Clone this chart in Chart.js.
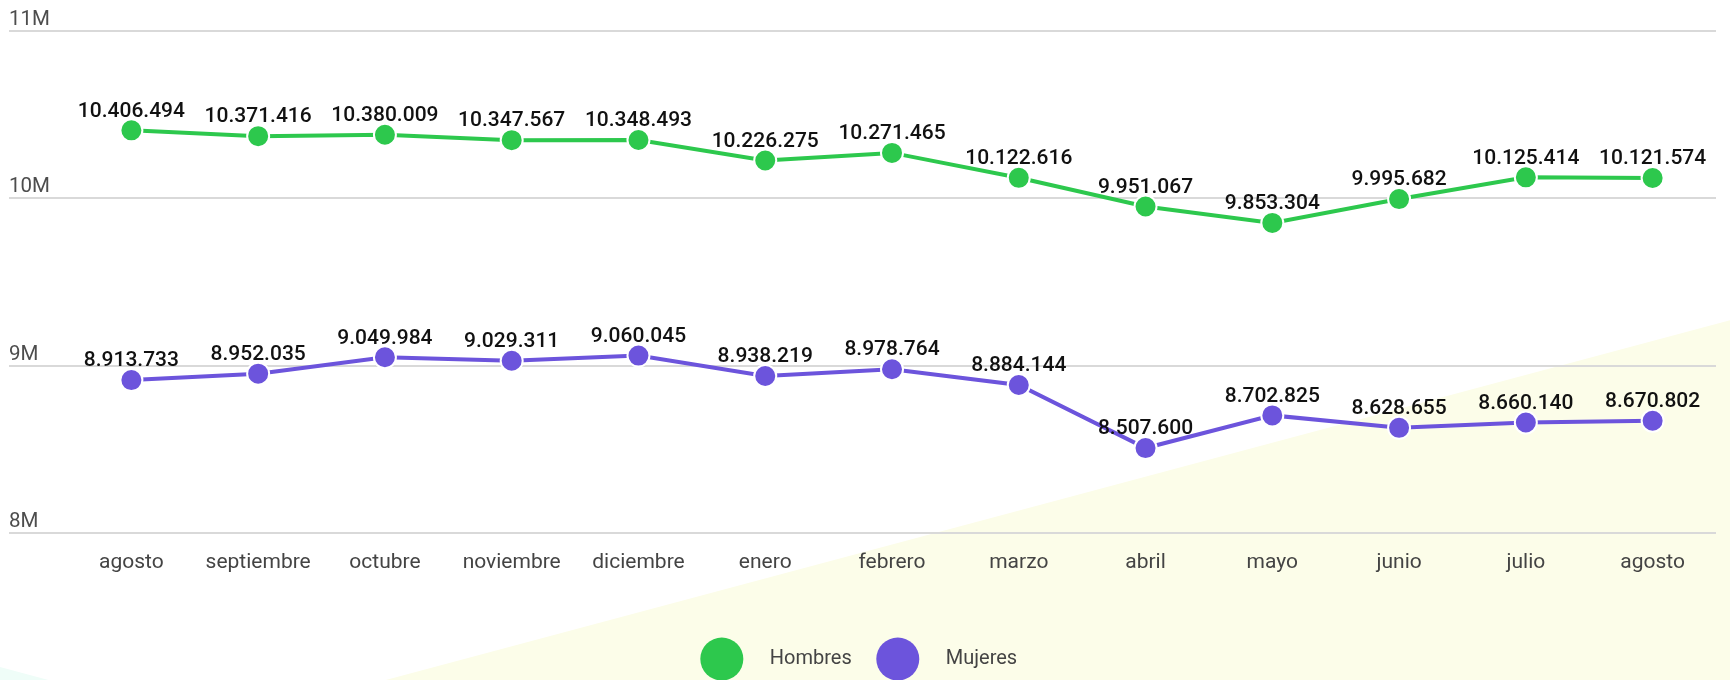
<!DOCTYPE html>
<html>
<head>
<meta charset="utf-8">
<script src="https://cdn.jsdelivr.net/npm/chart.js@4/dist/chart.umd.min.js"></script>
<style>
  html, body { margin: 0; padding: 0; background: #fff; }
  #wrap { width: 1730px; height: 680px; }
</style>
</head>
<body>
<div id="wrap"><canvas id="chart" width="1730" height="680"></canvas></div>
<script>
var months = ['agosto', 'septiembre', 'octubre', 'noviembre', 'diciembre', 'enero', 'febrero',
              'marzo', 'abril', 'mayo', 'junio', 'julio', 'agosto'];
var hombres = [10406494, 10371416, 10380009, 10347567, 10348493, 10226275, 10271465,
               10122616, 9951067, 9853304, 9995682, 10125414, 10121574];
var mujeres = [8913733, 8952035, 9049984, 9029311, 9060045, 8938219, 8978764,
               8884144, 8507600, 8702825, 8628655, 8660140, 8670802];
var yTicks = [8000000, 9000000, 10000000, 11000000];

var green = '#2dc84d';
var purple = '#6c54dc';
var legendBox = 76;

Chart.defaults.font.family = 'Roboto';

function fmt(v) {
    return String(v).replace(/\B(?=(\d{3})+(?!\d))/g, '.');
}

// empty marker, the real dots are painted by legendDots below
var blank = document.createElement('canvas');
blank.width = 1;
blank.height = 1;

// soft background shapes
var backdrop = {
    id: 'backdrop',
    beforeDraw: function (chart) {
        var c = chart.ctx, w = chart.width, h = chart.height;
        c.save();
        c.fillStyle = '#ffffff';
        c.fillRect(0, 0, w, h);
        c.fillStyle = '#fcfde9';
        c.beginPath();
        c.moveTo(w * 0.223, h);
        c.lineTo(w, h * 0.471);
        c.lineTo(w, h);
        c.closePath();
        c.fill();
        c.fillStyle = '#effdf8';
        c.beginPath();
        c.moveTo(0, h * 0.981);
        c.lineTo(w * 0.028, h);
        c.lineTo(0, h);
        c.closePath();
        c.fill();
        c.restore();
    }
};

// values above each point
var valueLabels = {
    id: 'valueLabels',
    afterDatasetsDraw: function (chart) {
        var c = chart.ctx;
        c.save();
        c.font = '500 21px Roboto';
        c.fillStyle = '#111';
        c.textAlign = 'center';
        c.textBaseline = 'middle';
        chart.data.datasets.forEach(function (ds, i) {
            chart.getDatasetMeta(i).data.forEach(function (pt, j) {
                c.fillText(fmt(ds.data[j]), pt.x, pt.y - 19);
            });
        });
        c.restore();
    }
};

// nudge the legend a bit to the left
var legendShift = {
    id: 'legendShift',
    afterLayout: function (chart) {
        chart.legend.left -= 12;
        chart.legend.right -= 12;
    }
};

// big round legend markers
var legendDots = {
    id: 'legendDots',
    afterDraw: function (chart) {
        var c = chart.ctx;
        var boxes = chart.legend.legendHitBoxes || [];
        c.save();
        boxes.forEach(function (hb, i) {
            c.fillStyle = chart.data.datasets[i].borderColor;
            c.beginPath();
            c.arc(hb.left + legendBox / 2, hb.top + hb.height / 2, 21.5, 0, Math.PI * 2);
            c.fill();
        });
        c.restore();
    }
};

var ctx = document.getElementById('chart').getContext('2d');

var chart = new Chart(ctx, {
    type: 'line',
    data: {
        labels: months,
        datasets: [
            {
                label: 'Hombres',
                data: hombres,
                borderColor: green,
                backgroundColor: green,
                borderWidth: 4,
                pointRadius: 11,
                pointBorderWidth: 2,
                pointBorderColor: '#fff',
                pointBackgroundColor: green,
                tension: 0
            },
            {
                label: 'Mujeres',
                data: mujeres,
                borderColor: purple,
                backgroundColor: purple,
                borderWidth: 4,
                pointRadius: 11,
                pointBorderWidth: 2,
                pointBorderColor: '#fff',
                pointBackgroundColor: purple,
                tension: 0
            }
        ]
    },
    options: {
        responsive: false,
        animation: false,
        layout: { padding: { top: 31, left: 9, right: 14, bottom: 1 } },
        scales: {
            x: {
                offset: true,
                grid: { display: false },
                border: { display: false },
                ticks: { color: '#444', font: { size: 21 }, padding: 9 },
                afterFit: function (s) { s.height = 108; }
            },
            y: {
                min: 8000000,
                max: 11000000,
                afterBuildTicks: function (s) {
                    s.ticks = yTicks.map(function (v) { return { value: v }; });
                },
                border: { display: false },
                grid: { color: '#d9d9d9', lineWidth: 2, tickLength: 59, tickColor: '#d9d9d9' },
                ticks: {
                    color: '#4d4d4d',
                    font: { size: 20.5 },
                    crossAlign: 'far',
                    labelOffset: -11,
                    padding: 0,
                    callback: function (v) { return (v / 1000000) + 'M'; }
                },
                afterFit: function (s) { s.width = 59; }
            }
        },
        plugins: {
            tooltip: { enabled: false },
            legend: {
                position: 'bottom',
                labels: {
                    color: '#444',
                    font: { size: 20 },
                    usePointStyle: true,
                    pointStyleWidth: legendBox,
                    padding: 8,
                    generateLabels: function (chart) {
                        var items = Chart.defaults.plugins.legend.labels.generateLabels(chart);
                        items.forEach(function (it) { it.pointStyle = blank; });
                        return items;
                    }
                }
            }
        }
    },
    plugins: [backdrop, valueLabels, legendShift, legendDots]
});
</script>
</body>
</html>
